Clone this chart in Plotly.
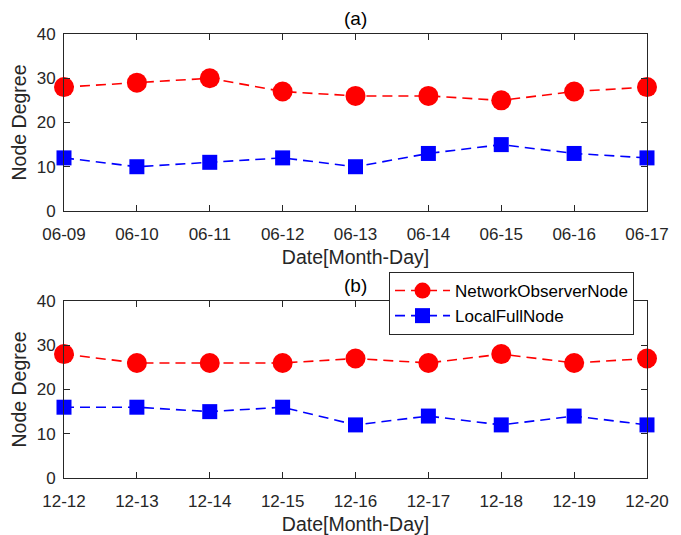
import plotly.graph_objects as go
from plotly.subplots import make_subplots

dates_a = ["06-09", "06-10", "06-11", "06-12", "06-13", "06-14", "06-15", "06-16", "06-17"]
dates_b = ["12-12", "12-13", "12-14", "12-15", "12-16", "12-17", "12-18", "12-19", "12-20"]
observer_a = [28, 29, 30, 27, 26, 26, 25, 27, 28]
localfull_a = [12, 10, 11, 12, 10, 13, 15, 13, 12]
observer_b = [28, 26, 26, 26, 27, 26, 28, 26, 27]
localfull_b = [16, 16, 15, 16, 12, 14, 12, 14, 12]
y_ticks = [0, 10, 20, 30, 40]

fig = make_subplots(rows=2, cols=1, vertical_spacing=0.2)

FONT = "Liberation Sans, Arial, sans-serif"
AX = "#262626"

def add(row, dates, obs, loc, show):
    fig.add_trace(go.Scatter(x=dates, y=obs, mode="lines+markers", name="NetworkObserverNode",
                             line=dict(color="#ff0000", width=1.6, dash="10px,6px"),
                             marker=dict(symbol="circle", size=20, color="#ff0000"),
                             cliponaxis=False, showlegend=show), row=row, col=1)
    fig.add_trace(go.Scatter(x=dates, y=loc, mode="lines+markers", name="LocalFullNode",
                             line=dict(color="#0000ff", width=1.6, dash="10px,6px"),
                             marker=dict(symbol="square", size=15, color="#0000ff"),
                             cliponaxis=False, showlegend=show), row=row, col=1)

add(1, dates_a, observer_a, localfull_a, False)
add(2, dates_b, observer_b, localfull_b, True)

axcommon = dict(showline=True, linecolor=AX, linewidth=1, mirror="ticks", ticks="inside",
                ticklen=6, tickcolor=AX, showgrid=False, zeroline=False,
                tickfont=dict(family=FONT, size=17, color=AX))
for r in (1, 2):
    fig.update_xaxes(type="category", range=[0, 8], automargin=False, ticklabelstandoff=8,
                     title=dict(text="Date[Month-Day]", standoff=6,
                                font=dict(family=FONT, size=19.5, color=AX)),
                     row=r, col=1, **axcommon)
    fig.update_yaxes(range=[0, 40], tickvals=y_ticks, automargin=False, ticklabelstandoff=4,
                     title=dict(text="Node Degree", standoff=4,
                                font=dict(family=FONT, size=19.5, color=AX)),
                     row=r, col=1, **axcommon)

fig.update_layout(
    width=681, height=535,
    margin=dict(l=64, r=34, t=34, b=57),
    paper_bgcolor="white", plot_bgcolor="white",
    xaxis=dict(domain=[0, 1]), yaxis=dict(domain=[0.6014, 1.0]),
    xaxis2=dict(domain=[0, 1]), yaxis2=dict(domain=[0, 0.3986]),
    showlegend=True,
    legend=dict(x=0.5575, y=0.464, xanchor="left", yanchor="top",
                bgcolor="white", bordercolor=AX, borderwidth=1,
                font=dict(family=FONT, size=17, color="black"),
                tracegroupgap=0, itemwidth=55),
    annotations=[
        dict(text="(a)", x=0.5, y=1.0, xref="paper", yref="paper", yshift=3, xanchor="center",
             yanchor="bottom", showarrow=False, font=dict(family=FONT, size=19, color="black")),
        dict(text="(b)", x=0.5, y=0.3986, xref="paper", yref="paper", yshift=3, xanchor="center",
             yanchor="bottom", showarrow=False, font=dict(family=FONT, size=19, color="black")),
    ],
)

fig.write_html("out.html", config={"displayModeBar": False},
               post_script="document.body.style.margin='0px';")
